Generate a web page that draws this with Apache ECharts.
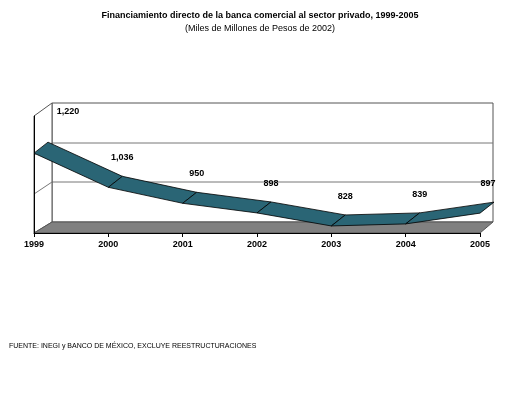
<!DOCTYPE html><html><head><meta charset="utf-8"><script src="https://cdn.jsdelivr.net/npm/echarts@6/dist/echarts.min.js"></script></head><body style="margin:0"><div id="c" style="width:520px;height:400px"></div><script>
const years=['1999','2000','2001','2002','2003','2004','2005'];
const values=[1220,1036,950,898,828,839,897];
const labels=['1,220','1,036','950','898','828','839','897'];
const DX=14,DY=-11;
const c=echarts.init(document.getElementById('c'));
const F='Arial, Liberation Sans, sans-serif';
c.setOption({
animation:false,
title:[{text:'Financiamiento directo de la banca comercial al sector privado, 1999-2005',left:'center',top:6,textStyle:{fontSize:9,fontWeight:'bold',fontFamily:F,color:'#000'}},
{text:'(Miles de Millones de Pesos de 2002)',left:'center',top:19,textStyle:{fontSize:9,fontWeight:'normal',fontFamily:F,color:'#000'}},
{text:'FUENTE: INEGI y BANCO DE MÉXICO, EXCLUYE REESTRUCTURACIONES',left:4,top:338,textStyle:{fontSize:7,fontWeight:'normal',fontFamily:F,color:'#000'}}],
grid:{left:34,right:40,top:116,bottom:167},
xAxis:{type:'category',data:years,boundaryGap:false,axisLine:{lineStyle:{color:'#000'}},axisTick:{show:true,length:4,lineStyle:{color:'#000'}},axisLabel:{fontSize:9,fontWeight:'bold',fontFamily:F,color:'#000',margin:7}},
yAxis:{type:'value',min:790,max:1420,axisLine:{show:true,lineStyle:{color:'#000'}},axisLabel:{show:false},axisTick:{show:false},splitLine:{show:false}},
graphic:[
{type:'rect',z:-10,shape:{x:52,y:103,width:441,height:119},style:{fill:'#fff',stroke:'#555',lineWidth:1}},
{type:'line',z:-9,shape:{x1:52,y1:143,x2:493,y2:143},style:{stroke:'#777'}},
{type:'line',z:-9,shape:{x1:52,y1:182,x2:493,y2:182},style:{stroke:'#777'}},
{type:'polygon',z:-9,shape:{points:[[34,116],[52,103],[52,222],[34,233]]},style:{fill:'#fff',stroke:'#555'}},
{type:'line',z:-9,shape:{x1:34,y1:155,x2:52,y2:143},style:{stroke:'#777'}},
{type:'line',z:-9,shape:{x1:34,y1:194,x2:52,y2:182},style:{stroke:'#777'}},
{type:'polygon',z:-8,shape:{points:[[34,233],[52,222],[493,222],[480,233]]},style:{fill:'#808080',stroke:'#555'}}
],
series:[{type:'custom',data:values.map((v,i)=>[i,v]),
renderItem:function(params,api){
 const i=api.value(0);const p=api.coord([i,api.value(1)]);
 const ch=[];
 if(i<values.length-1){const q=api.coord([i+1,values[i+1]]);
  ch.push({type:'polygon',shape:{points:[[p[0],p[1]],[q[0],q[1]],[q[0]+DX,q[1]+DY],[p[0]+DX,p[1]+DY]]},style:{fill:'#2a6575',stroke:'#000',lineWidth:0.8}});}
 ch.push({type:'text',style:{text:labels[i],x:p[0]+DX+(i==0?20:0)+(i==6?-6:0),y:p[1]+DY-(i==0?26:14),align:'center',verticalAlign:'bottom',font:'bold 9px '+F,fill:'#000'}});
 return {type:'group',children:ch};
}}]
});
</script></body></html>
